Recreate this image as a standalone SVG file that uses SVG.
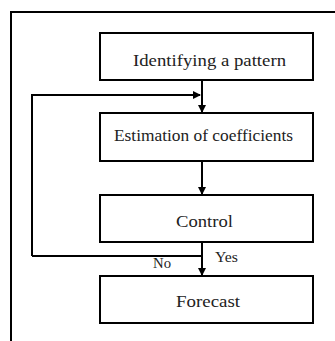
<svg xmlns="http://www.w3.org/2000/svg" width="335" height="341" viewBox="0 0 335 341">
<style>
.box{fill:#fff;stroke:#000;stroke-width:2}
.t{font-family:"Liberation Serif","Times New Roman","DejaVu Serif",serif;font-size:17px;fill:#222;text-anchor:middle}
.s{font-family:"Liberation Serif","Times New Roman","DejaVu Serif",serif;font-size:15px;fill:#222}
.c{fill:none;stroke:#000;stroke-width:2}
</style>
<defs>
<marker id="ah" markerWidth="8" markerHeight="8" refX="7" refY="4" orient="auto" markerUnits="userSpaceOnUse">
<path d="M0,0 L8,4 L0,8 Z" fill="#000"/>
</marker>
</defs>
<rect width="335" height="341" fill="#fff"/>
<path d="M11,341 V12 H335" fill="none" stroke="#000" stroke-width="2"/>
<g id="connectors">
<path class="c" d="M202,80 V112" marker-end="url(#ah)"/>
<path class="c" d="M32,256 V95 H200" marker-end="url(#ah)"/>
<path class="c" d="M202,161 V194" marker-end="url(#ah)"/>
<path class="c" d="M202,242 V275" marker-end="url(#ah)"/>
<path class="c" d="M202,256 H32"/>
<text class="s" x="215" y="262" textLength="23" lengthAdjust="spacingAndGlyphs">Yes</text>
<text class="s" x="153" y="268" textLength="18" lengthAdjust="spacingAndGlyphs">No</text>
</g>
<g id="n1"><rect class="box" x="100" y="33" width="213" height="47"/><text class="t" x="209.5" y="66" textLength="153" lengthAdjust="spacingAndGlyphs">Identifying a pattern</text></g>
<g id="n2"><rect class="box" x="100" y="113" width="213" height="48"/><text class="t" x="203.5" y="141" textLength="179" lengthAdjust="spacingAndGlyphs">Estimation of coefficients</text></g>
<g id="n3"><rect class="box" x="100" y="195" width="213" height="47"/><text class="t" x="204.5" y="227" textLength="57" lengthAdjust="spacingAndGlyphs">Control</text></g>
<g id="n4"><rect class="box" x="100" y="276" width="213" height="47"/><text class="t" x="208" y="307" textLength="64" lengthAdjust="spacingAndGlyphs">Forecast</text></g>
</svg>
